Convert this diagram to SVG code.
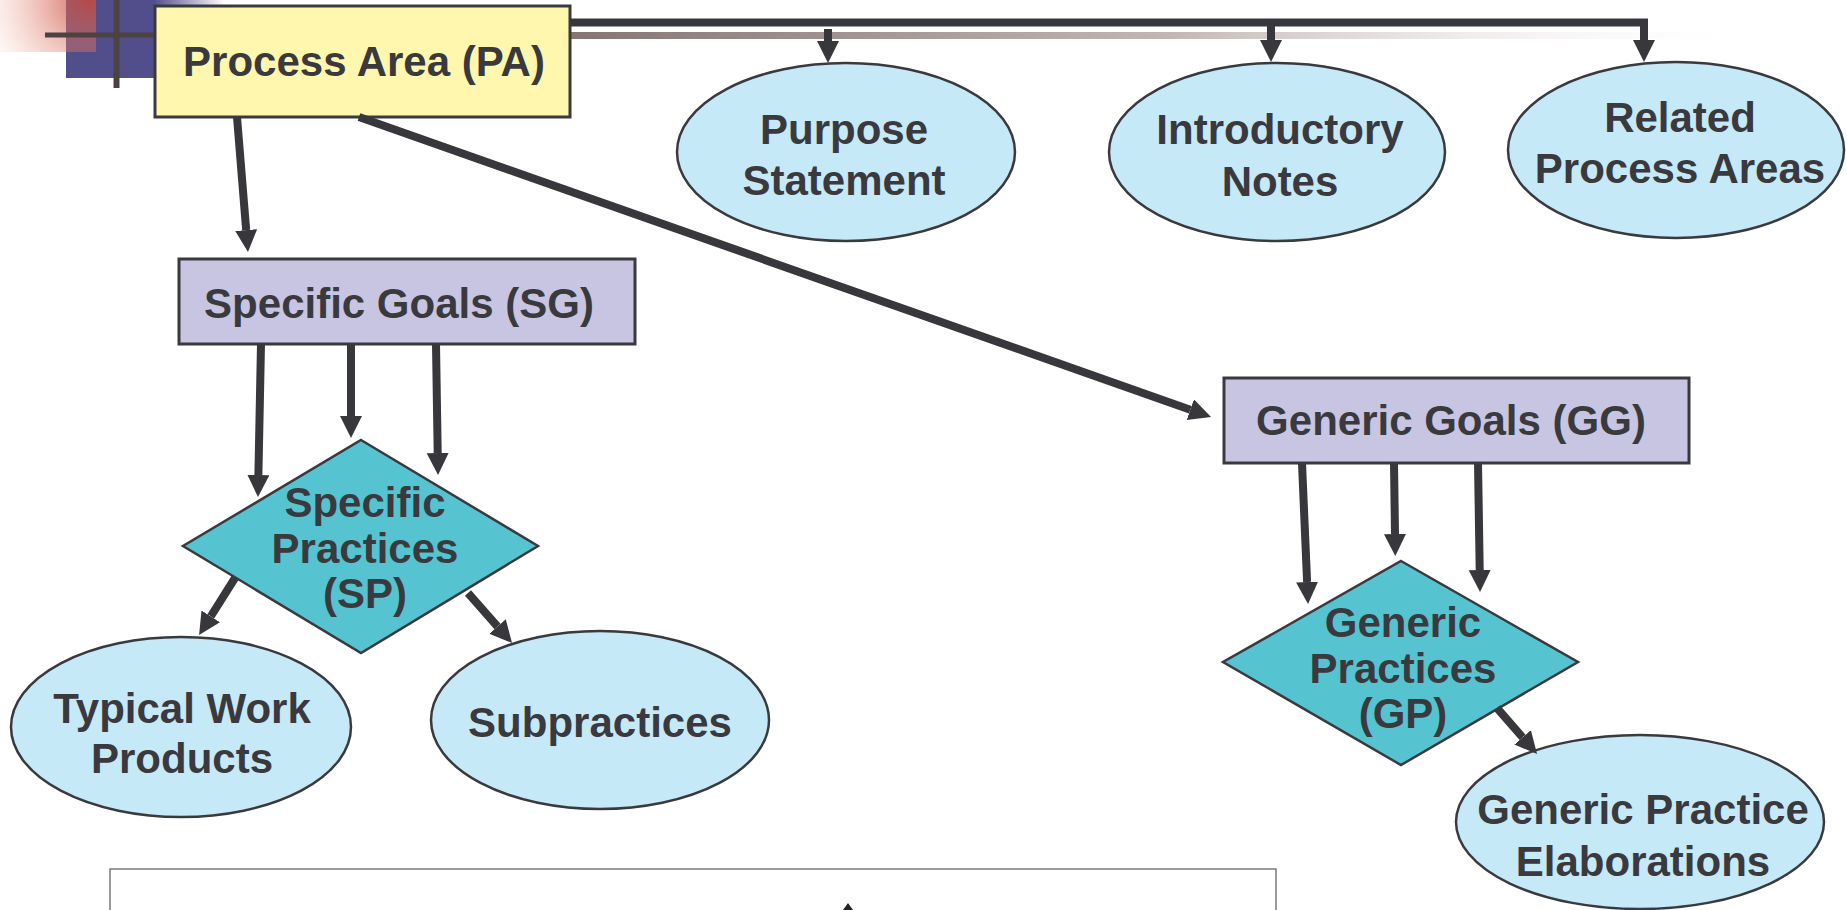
<svg xmlns="http://www.w3.org/2000/svg" width="1847" height="910" viewBox="0 0 1847 910">
  <style>
    .lbl { font-family: "Liberation Sans", Arial, sans-serif; font-weight: bold; font-size: 42px; fill: #3a3a3e; text-anchor: middle; }
    .box { stroke: #3a3a3e; stroke-width: 3; }
    .pa { fill: #fff7ad; }
    .goal { fill: #c8c5e2; }
    .practice { fill: #55c3d0; stroke: #3a3a3e; stroke-width: 2.5; }
    .info { fill: #c6e9f8; stroke: #3a3a3e; stroke-width: 2.5; }
    .link { fill: none; stroke: #38383c; stroke-width: 8; marker-end: url(#head); }
    .cross { stroke: #4b4241; }
  </style>
  <defs>
    <marker id="head" markerUnits="userSpaceOnUse" markerWidth="24" markerHeight="24" refX="0" refY="11" orient="auto">
      <path d="M0,0 L22,11 L0,22 Z" fill="#38383c"/>
    </marker>
    <radialGradient id="redFade" cx="90" cy="0" r="115" gradientUnits="userSpaceOnUse">
      <stop offset="0" stop-color="#c4483c" stop-opacity="0.85"/>
      <stop offset="0.4" stop-color="#d87060" stop-opacity="0.5"/>
      <stop offset="1" stop-color="#f5b09a" stop-opacity="0"/>
    </radialGradient>
    <linearGradient id="blueFade" x1="66" y1="0" x2="225" y2="0" gradientUnits="userSpaceOnUse">
      <stop offset="0" stop-color="#524e8c"/>
      <stop offset="0.55" stop-color="#524e8c"/>
      <stop offset="1" stop-color="#524e8c" stop-opacity="0"/>
    </linearGradient>
    <linearGradient id="barFade" x1="570" y1="0" x2="1775" y2="0" gradientUnits="userSpaceOnUse">
      <stop offset="0" stop-color="#857673"/>
      <stop offset="0.5" stop-color="#c2b7b3"/>
      <stop offset="1" stop-color="#ffffff" stop-opacity="0"/>
    </linearGradient>
  </defs>

  <!-- corner ornament -->
  <g id="ornament">
    <rect x="66" y="0" width="159" height="78" fill="url(#blueFade)"/>
    <rect x="0" y="0" width="96" height="52" fill="url(#redFade)"/>
    <line class="cross" x1="45" y1="35" x2="160" y2="35" stroke-width="5"/>
    <line class="cross" x1="116.5" y1="0" x2="116.5" y2="88" stroke-width="6"/>
  </g>

  <!-- shaded rule under the top bus -->
  <rect id="rule" x="570" y="32" width="1205" height="7" fill="url(#barFade)"/>

  <g id="pa">
    <rect class="box pa" x="155" y="6" width="415" height="111"/>
    <text class="lbl" x="364" y="76">Process Area (PA)</text>
  </g>

  <g id="purpose">
    <ellipse class="info" cx="846" cy="152" rx="169" ry="89"/>
    <text class="lbl" x="844" y="144">Purpose</text>
    <text class="lbl" x="844" y="195">Statement</text>
  </g>

  <g id="notes">
    <ellipse class="info" cx="1277" cy="152" rx="168" ry="89"/>
    <text class="lbl" x="1280" y="144">Introductory</text>
    <text class="lbl" x="1280" y="196">Notes</text>
  </g>

  <g id="related">
    <ellipse class="info" cx="1676" cy="150" rx="168" ry="88"/>
    <text class="lbl" x="1680" y="132">Related</text>
    <text class="lbl" x="1680" y="183">Process Areas</text>
  </g>

  <g id="sg">
    <rect class="box goal" x="179" y="259" width="456" height="85"/>
    <text class="lbl" x="399" y="318">Specific Goals (SG)</text>
  </g>

  <g id="sp">
    <polygon class="practice" points="361,440 538,546 361,653 183,546"/>
    <text class="lbl" x="365" y="517">Specific</text>
    <text class="lbl" x="365" y="563">Practices</text>
    <text class="lbl" x="365" y="608">(SP)</text>
  </g>

  <g id="twp">
    <ellipse class="info" cx="181" cy="727" rx="170" ry="90"/>
    <text class="lbl" x="182" y="723">Typical Work</text>
    <text class="lbl" x="182" y="773">Products</text>
  </g>

  <g id="subpractices">
    <ellipse class="info" cx="600" cy="720" rx="169" ry="89"/>
    <text class="lbl" x="600" y="737">Subpractices</text>
  </g>

  <g id="gg">
    <rect class="box goal" x="1224" y="378" width="465" height="85"/>
    <text class="lbl" x="1451" y="435">Generic Goals (GG)</text>
  </g>

  <g id="gp">
    <polygon class="practice" points="1401,561 1578,662 1401,765 1223,662"/>
    <text class="lbl" x="1403" y="637">Generic</text>
    <text class="lbl" x="1403" y="683">Practices</text>
    <text class="lbl" x="1403" y="728">(GP)</text>
  </g>

  <g id="gpe">
    <ellipse class="info" cx="1640" cy="822" rx="184" ry="87"/>
    <text class="lbl" x="1643" y="824">Generic Practice</text>
    <text class="lbl" x="1643" y="876">Elaborations</text>
  </g>

  <g id="panel">
    <rect x="110" y="869" width="1166" height="60" fill="none" stroke="#7a7a7a" stroke-width="1.5"/>
    <polygon points="848,903 843,910 853,910" fill="#222"/>
  </g>

  <g id="connectors">
    <path class="link" d="M570,22.5 H1644 V40" stroke-linejoin="miter"/>
    <path class="link" d="M828,29 V41"/>
    <path class="link" d="M1271,23 V40"/>
    <path class="link" d="M237,117 L246.2,230.1"/>
    <path class="link" d="M359,117 L1190.3,409.7"/>
    <path class="link" d="M261,344 L258.4,475"/>
    <path class="link" d="M351,344 L351,416"/>
    <path class="link" d="M436,344 L437.7,453"/>
    <path class="link" d="M235,578 L210.8,616.4"/>
    <path class="link" d="M468,593 L497.5,626.5"/>
    <path class="link" d="M1302,463 L1307.1,582"/>
    <path class="link" d="M1394,463 L1395,534"/>
    <path class="link" d="M1478,463 L1479.7,570"/>
    <path class="link" d="M1497,708 L1522.6,737.4"/>
  </g>
</svg>
